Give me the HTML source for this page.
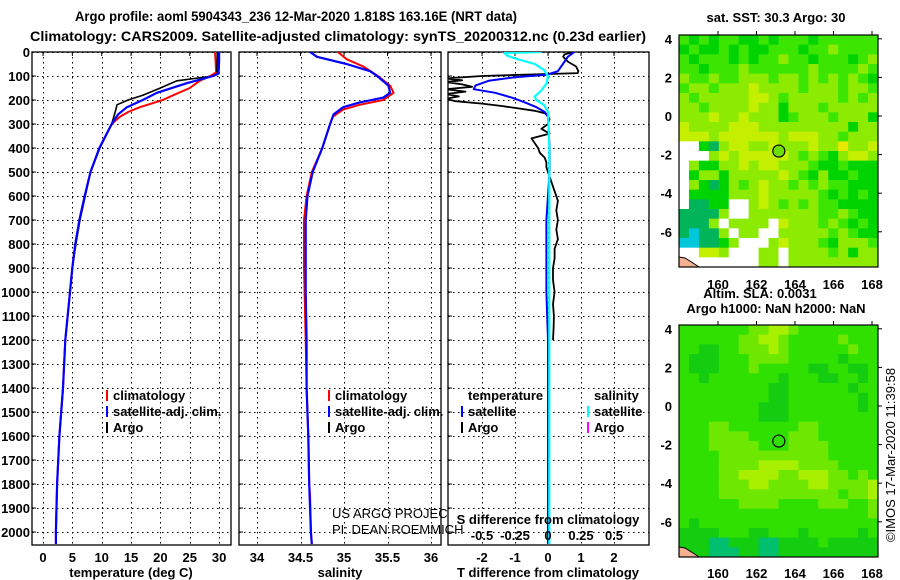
<!DOCTYPE html>
<html><head><meta charset="utf-8"><style>
html,body{margin:0;padding:0;background:#fff;}
svg{display:block;}
text{font-family:"Liberation Sans",sans-serif;}
.b{font-weight:bold;font-size:13px;}
.t{font-weight:bold;font-size:14px;}
</style></head><body>
<svg id="fig" width="900" height="580" viewBox="0 0 900 580" xmlns="http://www.w3.org/2000/svg">
<text class="t" x="75" y="21" textLength="442" lengthAdjust="spacingAndGlyphs">Argo profile: aoml 5904343_236 12-Mar-2020 1.818S 163.16E (NRT data)</text>
<text class="t" x="30" y="41" textLength="616" lengthAdjust="spacingAndGlyphs">Climatology: CARS2009. Satellite-adjusted climatology: synTS_20200312.nc (0.23d earlier)</text>
<g id="g"></g>
</svg>
<script>
// ---------- depth axis ----------
const depthTicks=[0,100,200,300,400,500,600,700,800,900,1000,1100,1200,1300,1400,1500,1600,1700,1800,1900,2000];
// ---------- temperature panel ----------
const tempTicks=[0,5,10,15,20,25,30];
const tClimDepth=[0,40,85,100,120,150,180,200,230,250,270,300,400,500,600,700,800,900,1000,1200,1400,1600,1800,2000,2050];
const tClimVal=[29.3,29.4,29.5,28.5,26.7,25.0,22.2,20.4,16.5,14.5,13.1,11.7,9.6,8.1,7.1,6.2,5.5,5.0,4.6,3.8,3.4,2.8,2.4,2.2,2.2];
const tSatDepth=[0,40,90,100,130,170,200,230,260,300,400,500,600,700,800,900,1000,1200,1400,1600,1800,2000,2050];
const tSatVal=[30.0,30.0,29.9,29.0,24.5,19.4,17.0,14.3,12.8,11.7,9.6,8.1,7.1,6.2,5.5,5.0,4.6,3.8,3.4,2.8,2.4,2.2,2.2];
const tArgoDepth=[0,30,80,90,100,120,150,180,200,220,250,300,400,450,500,600,700,800,900,1000,1100,1200,1400,1600,1800,2000];
const tArgoVal=[29.7,29.7,29.6,29.8,29.0,22.8,20.0,17.0,14.5,12.6,12.3,11.7,9.7,8.9,8.1,7.2,6.3,5.6,5.0,4.6,4.2,3.8,3.4,2.8,2.4,2.2];
// ---------- salinity panel ----------
const salTicks=[34,34.5,35,35.5,36];
const sClimDepth=[0,30,60,100,140,170,200,220,240,270,300,400,500,600,700,900,1200,1400,1600,1800,1850,2000,2050];
const sClimVal=[34.93,35.03,35.22,35.39,35.53,35.57,35.45,35.18,34.99,34.87,34.84,34.75,34.63,34.57,34.54,34.54,34.56,34.57,34.59,34.60,34.61,34.62,34.63];
const sSatDepth=[0,20,50,80,100,140,170,190,210,230,260,300,400,500,600,700,1000,1200,1400,1600,1800,2000,2050];
const sSatVal=[34.61,34.69,35.03,35.30,35.38,35.51,35.53,35.45,35.18,34.99,34.88,34.84,34.75,34.64,34.58,34.56,34.56,34.57,34.57,34.59,34.60,34.62,34.63];
// ---------- difference panel ----------
const dTicks=[-2,-1,0,1,2];
const sdTickLabels=["-0.5","-0.25","0","0.25","0.5"];
const sdTicks=[-0.5,-0.25,0,0.25,0.5];
const dArgoDepth=[0,10,20,40,60,80,88,100,110,118,125,135,145,155,165,175,185,195,205,215,225,235,245,255,265,280,300,320,340,360,380,400,420,440,460,480,500,540,580,620,660,700,740,780,820,860,900,950,1000,1050,1100,1150,1200];
const dArgoVal=[0.77,0.5,0.46,0.6,0.85,0.92,0.9,-2.0,-3.1,-2.6,-3.1,-2.6,-2.3,-3.1,-2.5,-3.1,-2.7,-3.1,-2.8,-2.0,-1.4,-0.9,-0.4,-0.1,0.0,0.05,0.0,-0.2,0.05,-0.5,-0.4,-0.3,-0.25,-0.1,-0.05,-0.05,0.0,0.1,0.2,0.3,0.25,0.3,0.25,0.3,0.2,0.2,0.15,0.15,0.2,0.15,0.18,0.17,0.15];
const dSatDepth=[0,20,50,80,95,105,120,140,155,170,190,210,230,250,270,400,500,700,1000,1200,2050];
const dSatVal=[0.8,0.6,0.45,0.3,-0.05,-1.0,-1.8,-2.2,-2.25,-1.6,-1.1,-0.7,-0.35,-0.1,0,0.05,0.05,-0.05,-0.05,0,0];
const dSalDepth=[0,4,15,30,50,75,100,130,160,185,200,220,250,400,2050];
const dSalVal=[-0.05,-0.33,-0.31,-0.23,-0.1,-0.03,0.0,-0.01,-0.05,-0.1,-0.09,-0.03,0.0,0.01,0.01];
// ---------- maps ----------
const lonTicks=[160,162,164,166,168];
const latTicks=[4,2,0,-2,-4,-6];
const argoLon=163.16, argoLat=-1.818;
const sstGrid=[
"gGgGggGGgGgggGgggggg","GgGGgGgGGgggGgglgggg","gGgggGgGgglggGgggGgl","ggGggglgggggglgggglg",
"lgglgglllgllglglglgG","gllglllyllllglllgllg","lglllllyylglllllglgl","llgllllyllGlllglllll",
"lllyllylllGglllglllG","yllllyyylllllllllGll","yyylyyyyyylyyyllglll","wwGtlyyllylllyllYlly",
"wwwlylyyyyylglgGlyyl","wlGGllylyylllgGGgGGG","wGllGlllllylgGlGGgGG","wlGtGlglyllglglggGGG",
"wGGGGlllylllllgGgGgG","wttGGwwlylglglggGGGG","ttttlwwlllllllgglgGG","tttlwllllwylllglgGgG",
"tcttlwllwwlllllglgGG","ccttGlwwwlylllgGlllg","wwyylwwwllwllllglGll","wwwwwwwwllwlllllllll"];
const slaGrid=[
"gggggggllyylgggggggg","ggggggllyylggggglggg","ggGGgglllylgggggglgg","gGGGgggllllgggggGggg",
"gGGGggglgggggGGggGGg","ggGgggggggGgggGGggGg","gggggggggGGggggggGgg","gggggggggGGgggggggGg",
"ggggggggGGGgggggggGg","ggggggggGGGggggggggg","gggllgggggggllgggggg","gggllllgggglllgggggg",
"ggglllllgggllllggggg","gggglllllllllllggggg","ggggllllyyyyllllgggg","ggggllyyyyllyyyllglg",
"gggglllyyllllyylllly","ggggllllllllllllgllyy","ggggggllllgggglllggly","gggggggggggggggggggl",
"gGgggggggggggggggggg","GGGGgggGGgggGgggggGg","GGGttGGGttGGGGgGGGGG","GGGtttGGttGGGGGGGGGG"];
const sstColors={G:"#00d400",g:"#3de600",l:"#8ceb00",y:"#c4f000",Y:"#e8e800",w:"#ffffff",t:"#00b45a",c:"#00c8dc"};
const slaColors={G:"#14cc10",g:"#30e000",l:"#6ee800",y:"#a8f000",t:"#00c070"};

const NS="http://www.w3.org/2000/svg";
const root=document.getElementById('g');
function mk(tag,attrs,parent){const e=document.createElementNS(NS,tag);for(const k in attrs)e.setAttribute(k,attrs[k]);(parent||root).appendChild(e);return e;}
function txt(x,y,s,attrs,parent){const e=mk('text',Object.assign({x:x,y:y},attrs||{}),parent);e.textContent=s;return e;}

const Y0=52, PXD=0.24, YB=545;
const yD=d=>Y0+d*PXD;
const xT=v=>43+v*5.87;
const xS=v=>257+(v-34)*87;
const xDT=v=>548+v*33;
const xDS=v=>548+v*132;
const snap=v=>Math.round(v)+0.5;

function panel(name,x0,x1,xs,ticks,fmt){
  const g=mk('g',{});
  
  
  const cid='clip-'+name;
  const cp=mk('clipPath',{id:cid},g);mk('rect',{x:x0,y:Y0,width:x1-x0,height:YB-Y0},cp);
  for(const d of depthTicks){
    const l=mk('line',{x1:x0,x2:x1,y1:snap(yD(d)),y2:snap(yD(d)),stroke:'#000','stroke-width':1.2,'stroke-dasharray':'1.5,3.5','shape-rendering':'crispEdges'},g);
    
    
  }
  for(const t of ticks){
    const l=mk('line',{x1:snap(xs(t)),x2:snap(xs(t)),y1:Y0,y2:YB,stroke:'#000','stroke-width':1.2,'stroke-dasharray':'1.5,3.5','shape-rendering':'crispEdges'},g);
    
    
    mk('line',{x1:xs(t),x2:xs(t),y1:Y0,y2:Y0+4,stroke:'#000'},g);
    const lb=txt(xs(t),562,fmt?fmt(t):String(t),{class:'b','text-anchor':'middle'},g);
    
    
  }
  for(const d of depthTicks){mk('line',{x1:x0,x2:x0+4,y1:yD(d),y2:yD(d),stroke:'#000'},g);}
  const fr=mk('rect',{x:x0,y:Y0,width:x1-x0,height:YB-Y0,fill:'none',stroke:'#000','stroke-width':1.3},g);
  
  
  return {g:g,clip:'url(#'+cid+')'};
}
function series(p,name,depths,vals,xs,color,w){
  const pts=depths.map((d,i)=>xs(vals[i]).toFixed(1)+','+yD(d).toFixed(1)).join(' ');
  const l=mk('polyline',{points:pts,fill:'none',stroke:color,'stroke-width':w,'clip-path':p.clip,'stroke-linejoin':'round'},p.g);
  
  
}
function legendEntry(g,x,y,color,label){
  mk('rect',{x:x,y:y-10,width:2,height:11,fill:color},g);
  const t=txt(x+7,y,label,{class:'b'},g);
  
  
}

for(const d of depthTicks){
  const t=txt(30,yD(d)+5,String(d),{class:'b','text-anchor':'end'});
  
  
}

const p1=panel('temperature-panel',32,231,xT,tempTicks);
series(p1,'temperature-climatology-line',tClimDepth,tClimVal,xT,'#ff0000',2);
series(p1,'temperature-argo-line',tArgoDepth,tArgoVal,xT,'#000',1.6);
series(p1,'temperature-satellite-line',tSatDepth,tSatVal,xT,'#0000ff',2.2);
legendEntry(p1.g,106,400,'#ff0000','climatology');
legendEntry(p1.g,106,416,'#0000ff','satellite-adj. clim.');
legendEntry(p1.g,106,432,'#000000','Argo');
let at=txt(131,577,'temperature (deg C)',{class:'b','text-anchor':'middle'});



const p2=panel('salinity-panel',239,441,xS,salTicks);
series(p2,'salinity-climatology-line',sClimDepth,sClimVal,xS,'#ff0000',2);
series(p2,'salinity-satellite-line',sSatDepth,sSatVal,xS,'#0000ff',2.2);
legendEntry(p2.g,328,400,'#ff0000','climatology');
legendEntry(p2.g,328,416,'#0000ff','satellite-adj. clim.');
legendEntry(p2.g,328,432,'#000000','Argo');
let cr=txt(332,518,'US ARGO PROJEC',{'font-size':'13px'});


cr=txt(332,534,'PI: DEAN ROEMMICH',{'font-size':'13px'});


at=txt(340,577,'salinity',{class:'b','text-anchor':'middle'});



const p3=panel('difference-panel',448,649,xDT,dTicks);
series(p3,'t-diff-argo-line',dArgoDepth,dArgoVal,xDT,'#000',1.8);
series(p3,'t-diff-satellite-line',dSatDepth,dSatVal,xDT,'#0000ff',2);
series(p3,'s-diff-satellite-line',dSalDepth,dSalVal,xDS,'#00ffff',2.2);
let lh=txt(468,400,'temperature',{class:'b'},p3.g);


lh=txt(594,400,'salinity',{class:'b'},p3.g);


legendEntry(p3.g,461,416,'#0000ff','satellite');
legendEntry(p3.g,461,432,'#000000','Argo');
legendEntry(p3.g,587,416,'#00ffff','satellite');
legendEntry(p3.g,587,432,'#ff00ff','Argo');
let sd=txt(548,524,'S difference from climatology',{class:'b','text-anchor':'middle'});


sdTicks.forEach((v,i)=>{
  const t=txt(xDS(v),540,sdTickLabels[i],{class:'b','text-anchor':'middle'});
  
  
});
at=txt(548,577,'T difference from climatology',{class:'b','text-anchor':'middle'});



function map(name,top,grid,colors,fillCircle,title,xlabY){
  const g=mk('g',{});
  
  
  const L=679,R=878,B=top+232;
  const mx=lon=>718+(lon-160)*19.25;
  const my=lat=>top+81-lat*19.3;
  const rows=grid.length, cols=grid[0].length;
  const cw=(R-L)/cols, ch=(B-top)/rows;
  grid.forEach((row,r)=>{
    for(let c=0;c<cols;c++){
      const k=row[c]||row[row.length-1];
      const cell=mk('rect',{x:(L+c*cw).toFixed(2),y:(top+r*ch).toFixed(2),width:(cw+0.4).toFixed(2),height:(ch+0.4).toFixed(2),fill:colors[k]||'#30e000'},g);
      
      
    }
  });
  const coast=mk('polygon',{points:`${L},${B-10} ${L+6},${B-9} ${L+14},${B-4} ${L+20},${B} ${L},${B}`,fill:'#f4b090',stroke:'#000','stroke-width':1},g);
  
  
  mk('rect',{x:L,y:top,width:R-L,height:B-top,fill:'none',stroke:'#000','stroke-width':1.2},g);
  for(const lon of lonTicks){
    mk('line',{x1:mx(lon),x2:mx(lon),y1:top,y2:top-4,stroke:'#000'},g);
    const t=txt(mx(lon),xlabY,String(lon),{class:'b','text-anchor':'middle','font-size':'14px'},g);
    
    
  }
  for(const lat of latTicks){
    mk('line',{x1:R,x2:R+4,y1:my(lat),y2:my(lat),stroke:'#000'},g);
    const t=txt(672,my(lat)+5,String(lat),{class:'b','text-anchor':'end','font-size':'14px'},g);
    
    
  }
  const c=mk('circle',{cx:mx(argoLon),cy:my(argoLat),r:6,fill:fillCircle,stroke:'#000','stroke-width':1.2},g);
  
  
  const tt=txt(776,title.y,title.s,{class:'b','text-anchor':'middle'},g);
  
  
}
map('sst-map',35,sstGrid,sstColors,'#6ee000',{y:22,s:'sat. SST: 30.3 Argo: 30'},289);
map('sla-map',325,slaGrid,slaColors,'none',{y:313,s:'Argo h1000: NaN h2000: NaN'},578);
let sl=txt(760,298,'Altim. SLA: 0.0031',{class:'b','text-anchor':'middle'});


let st=txt(0,0,'©IMOS 17-Mar-2020 11:39:58',{'font-size':'13px','text-anchor':'middle',transform:'translate(895,455) rotate(-90)'});


</script>
</body></html>
